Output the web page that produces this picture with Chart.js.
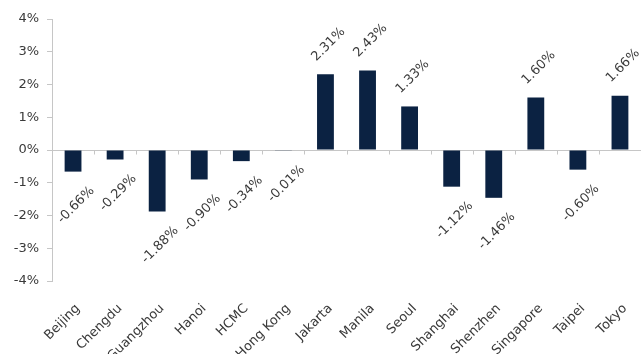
<!DOCTYPE html>
<html>
<head>
<meta charset="utf-8">
<script src="https://cdn.jsdelivr.net/npm/chart.js@4/dist/chart.umd.min.js"></script>
<style>
  html, body { margin: 0; padding: 0; background: #fff; }
  #wrap { width: 641px; height: 354px; }
</style>
</head>
<body>
<div id="wrap"><canvas id="canvas"></canvas></div>
<script>
// data
var cities = ["Beijing", "Chengdu", "Guangzhou", "Hanoi", "HCMC", "Hong Kong", "Jakarta",
  "Manila", "Seoul", "Shanghai", "Shenzhen", "Singapore", "Taipei", "Tokyo"];
var changes = [-0.66, -0.29, -1.88, -0.90, -0.34, -0.01, 2.31, 2.43, 1.33, -1.12, -1.46, 1.60, -0.60, 1.66];
var yTicks = [-4, -3, -2, -1, 0, 1, 2, 3, 4];

let navy = "#0b2242";
let textGrey = "#3a3a3a";
let lineGrey = "#c6c6c6";
let fontFam = "'DejaVu Sans', sans-serif";

// zero line with small tick marks at category boundaries
const zeroLine = {
  id: "zeroLine",
  beforeDatasetsDraw(chart) {
    const c = chart.ctx, x = chart.scales.x, y = chart.scales.y;
    const y0 = Math.round(y.getPixelForValue(0)) + 0.5;
    const step = x.getPixelForValue(1) - x.getPixelForValue(0);
    c.save();
    c.strokeStyle = lineGrey;
    c.lineWidth = 1;
    c.beginPath();
    c.moveTo(chart.chartArea.left, y0);
    c.lineTo(chart.chartArea.right, y0);
    for (let i = 1; i < cities.length; i++) {
      const px = Math.round(x.getPixelForValue(i) - step / 2) + 0.5;
      c.moveTo(px, y0);
      c.lineTo(px, y0 + 4);
    }
    c.stroke();
    c.restore();
  }
};

// rotated value labels at the bar ends
const barLabels = {
  id: "barLabels",
  afterDatasetsDraw(chart) {
    const c = chart.ctx;
    const meta = chart.getDatasetMeta(0);
    c.save();
    c.font = "13px " + fontFam;
    c.fillStyle = textGrey;
    c.textAlign = "center";
    c.textBaseline = "middle";
    meta.data.forEach(function (bar, i) {
      const v = changes[i];
      const txt = v.toFixed(2) + "%";
      const w = c.measureText(txt).width;
      const half = (w + 9) * 0.7071 / 2;
      const up = v >= 0;
      const cy = up ? bar.y - half - 12 : bar.y + half + 14;
      c.save();
      c.translate(bar.x + 3, cy);
      c.rotate(-Math.PI / 4);
      c.fillText(txt, 0, 0);
      c.restore();
    });
    c.restore();
  }
};

const ctx = document.getElementById("canvas").getContext("2d");
const myChart = new Chart(ctx, {
  type: "bar",
  data: {
    labels: cities,
    datasets: [
      {
        data: changes,
        backgroundColor: navy,
        borderColor: navy,
        borderWidth: 0,
        barPercentage: 0.4,
        categoryPercentage: 1,
      },
    ],
  },
  options: {
    responsive: true,
    maintainAspectRatio: false,
    animation: false,
    layout: { padding: { top: 19, right: 0, left: 0, bottom: 0 } },
    plugins: {
      legend: { display: false },
      tooltip: { enabled: false },
    },
    scales: {
      x: {
        grid: { display: false },
        border: { display: false },
        ticks: {
          color: textGrey,
          font: { size: 13, family: fontFam },
          minRotation: 45,
          maxRotation: 45,
          padding: 12,
          labelOffset: 5,
          autoSkip: false,
        },
        afterFit(scale) {
          scale.height = 73;
          scale.paddingLeft = 0;
          scale.paddingRight = 0;
        },
      },
      y: {
        min: -4,
        max: 4,
        afterBuildTicks(scale) {
          scale.ticks = yTicks.map(function (v) { return { value: v }; });
        },
        grid: {
          drawOnChartArea: false,
          tickLength: 5,
          color: lineGrey,
        },
        border: { display: true, color: lineGrey },
        ticks: {
          color: textGrey,
          font: { size: 13, family: fontFam },
          padding: 8,
          callback: function (v) { return v + "%"; },
        },
        afterFit(scale) {
          scale.width = 52;
          scale.paddingTop = 0;
          scale.paddingBottom = 0;
        },
      },
    },
  },
  plugins: [zeroLine, barLabels],
});
</script>
</body>
</html>
